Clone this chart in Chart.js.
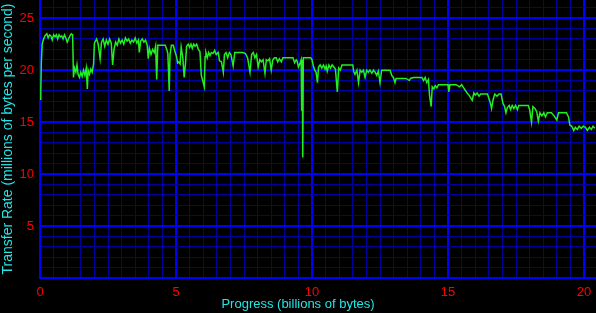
<!DOCTYPE html>
<html>
<head>
<meta charset="utf-8">
<script src="https://cdn.jsdelivr.net/npm/chart.js@4/dist/chart.umd.min.js"></script>
<style>
  html, body { margin: 0; padding: 0; background: #000; }
  #wrap { width: 596px; height: 313px; position: relative; }
</style>
</head>
<body>
<div id="wrap"><canvas id="rateChart"></canvas></div>
<script>
// progress in billions of bytes, rate in millions of bytes per second
const progress = [
  0.00, 0.03, 0.05, 0.08, 0.12, 0.18, 0.25, 0.30, 0.35, 0.40, 0.45, 0.50, 0.55, 0.60, 0.65, 0.70,
  0.75, 0.80, 0.85, 0.90, 0.95, 1.00, 1.05, 1.10, 1.15, 1.20, 1.23, 1.27, 1.32, 1.36, 1.40, 1.45,
  1.50, 1.55, 1.60, 1.65, 1.70, 1.74, 1.77, 1.82, 1.87, 1.92, 1.97, 2.00,
  2.02, 2.08, 2.14, 2.21, 2.26, 2.32, 2.38, 2.44, 2.50, 2.56, 2.62, 2.67, 2.72, 2.78, 2.84, 2.90,
  2.96, 3.02, 3.08, 3.14, 3.20, 3.26, 3.32, 3.38, 3.44, 3.50, 3.56, 3.62, 3.65, 3.70, 3.76, 3.82,
  3.88, 3.94, 3.98, 4.02, 4.08, 4.14, 4.20, 4.25, 4.29, 4.33, 4.40, 4.50, 4.60, 4.66, 4.70, 4.75,
  4.78, 4.83, 4.90, 4.96,
  5.02, 5.06, 5.10, 5.15, 5.19, 5.25, 5.30, 5.35, 5.39, 5.45, 5.50, 5.55, 5.60, 5.65, 5.70, 5.76,
  5.82, 5.88, 5.93, 6.04, 6.07, 6.10, 6.15, 6.20, 6.25, 6.30, 6.36, 6.42, 6.48, 6.55, 6.60, 6.67,
  6.74, 6.78, 6.84, 6.90, 6.96, 7.02, 7.10, 7.16, 7.25, 7.35, 7.45, 7.55, 7.63, 7.72, 7.78, 7.84,
  7.90, 7.96, 8.02, 8.08, 8.14, 8.20, 8.27, 8.32, 8.38, 8.44, 8.50, 8.56, 8.62, 8.68, 8.74, 8.80,
  8.87, 8.93, 9.00, 9.10, 9.20, 9.30, 9.36, 9.42, 9.45, 9.50, 9.55, 9.60, 9.62, 9.64, 9.66, 9.68,
  9.75, 9.85, 9.95, 10.00, 10.05, 10.10, 10.15, 10.20, 10.24, 10.30, 10.36, 10.42, 10.48, 10.52,
  10.56, 10.62, 10.68, 10.74, 10.80, 10.86, 10.93, 10.98, 11.04, 11.10, 11.20, 11.30, 11.43,
  11.50, 11.53, 11.58, 11.65, 11.71, 11.77, 11.83, 11.89, 11.95, 12.01, 12.07, 12.13, 12.20, 12.26,
  12.32, 12.38, 12.44, 12.50, 12.56, 12.65, 12.75, 12.87, 12.93, 12.99, 13.05, 13.09, 13.15, 13.30,
  13.45, 13.58, 13.62, 13.73, 13.90, 14.04, 14.10, 14.16, 14.22, 14.28, 14.32, 14.38, 14.42, 14.48,
  14.53, 14.59, 14.65, 14.80, 15.00, 15.03,
  15.07, 15.20, 15.30, 15.42, 15.50, 15.60, 15.70, 15.77, 15.89, 15.95, 16.00, 16.07, 16.14, 16.20,
  16.30, 16.45, 16.50, 16.55, 16.60, 16.66, 16.72, 16.80, 16.88, 16.95, 17.02, 17.08, 17.13, 17.18,
  17.25, 17.30, 17.36, 17.42, 17.48, 17.55, 17.60, 17.70, 17.80, 17.95, 18.00, 18.07, 18.12, 18.20,
  18.26, 18.32, 18.38, 18.45, 18.52, 18.58, 18.65, 18.72, 18.80, 18.90, 19.00, 19.06, 19.20, 19.35,
  19.43, 19.48, 19.55, 19.62, 19.68, 19.75, 19.82, 19.90, 19.97, 20.05, 20.12, 20.20, 20.27, 20.33,
  20.40
];
const rate = [
  17.2, 18.1, 20.8, 22.5, 22.9, 23.3, 23.5, 23.1, 23.4, 23.3, 22.9, 23.4, 23.2, 23.4, 23.0, 23.4,
  23.2, 23.3, 23.0, 23.4, 23.1, 22.7, 23.0, 23.3, 23.5, 23.4, 19.3, 20.2, 19.8, 20.5, 19.6, 19.3,
  19.8, 19.4, 20.0, 19.5, 20.2, 18.2, 20.0, 19.6, 20.1, 19.8, 20.6, 22.6,
  22.6, 23.0, 22.5, 21.1, 22.7, 23.0, 22.3, 22.9, 22.5, 23.0, 22.6, 20.5, 22.0, 22.7, 22.4, 23.0,
  22.6, 22.9, 22.5, 23.1, 22.8, 23.0, 22.6, 22.9, 22.7, 23.1, 22.6, 22.9, 21.7, 22.8, 23.0, 22.7,
  22.9, 22.4, 21.1, 22.1, 21.5, 22.0, 21.7, 22.3, 19.1, 22.4, 22.4, 22.4, 22.4, 22.0, 21.6, 18.0,
  21.5, 22.4, 22.4, 21.8,
  21.3, 20.7, 20.8, 20.6, 22.2, 21.2, 19.3, 20.7, 22.3, 22.5, 22.2, 22.5, 22.1, 22.5, 22.3, 22.5,
  22.0, 21.8, 19.5, 18.4, 21.3, 21.7, 21.2, 21.7, 21.4, 21.7, 21.6, 21.9, 21.5, 21.7, 20.9, 20.8,
  19.8, 21.5, 21.7, 21.2, 21.7, 21.5, 20.4, 21.7, 21.7, 21.7, 21.7, 21.6, 21.2, 19.8, 21.5, 21.7,
  21.2, 21.5, 20.3, 21.0, 20.8, 21.0, 19.7, 21.0, 20.9, 21.1, 20.0, 21.0, 21.2, 21.2, 20.8, 21.1,
  20.8, 21.2, 21.2, 21.2, 21.2, 21.2, 20.7, 21.0, 20.9, 20.3, 20.6, 21.0, 16.1, 21.0, 11.6, 21.2,
  21.2, 21.2, 21.2, 21.0, 20.4, 20.0, 19.8, 18.8, 20.3, 20.5, 20.2, 20.5, 20.1, 20.4,
  19.9, 20.5, 20.2, 20.5, 20.3, 20.1, 17.9, 20.2, 20.0, 20.5, 20.5, 20.5, 20.5,
  20.5, 19.9, 19.6, 20.0, 18.8, 20.0, 19.8, 20.0, 19.3, 20.0, 19.8, 20.0, 19.7, 20.0,
  19.8, 19.5, 19.9, 18.8, 20.0, 20.0, 20.0, 20.0, 19.5, 19.3, 18.8, 19.2, 19.2, 19.2,
  19.2, 19.0, 19.2, 19.3, 19.3, 19.3, 19.0, 19.3, 18.8, 19.1, 17.6, 16.5, 18.4, 18.2,
  18.5, 18.3, 18.6, 18.6, 18.6, 17.9,
  18.6, 18.6, 18.6, 18.4, 18.6, 18.2, 17.8, 17.6, 17.1, 17.8, 17.6, 17.8, 17.5, 17.7,
  17.7, 17.7, 17.3, 16.9, 16.3, 17.2, 17.7, 17.5, 17.7, 17.7, 16.8, 16.5, 15.9, 16.4,
  16.6, 16.2, 16.6, 16.3, 16.6, 16.2, 16.6, 16.6, 16.6, 16.6, 16.2, 15.0, 16.5, 16.3,
  16.0, 15.1, 15.9, 15.6, 15.9, 15.5, 15.9, 15.9, 15.9, 15.6, 15.2, 15.9, 15.9, 15.9,
  15.5, 14.7, 14.6, 14.2, 14.5, 14.3, 14.6, 14.4, 14.6, 14.5, 14.2, 14.5, 14.3, 14.6,
  14.4
];
const xTickLabels = [0, 5, 10, 15, 20];
const yTickLabels = [5, 10, 15, 20, 25];
const xTitle = "Progress (billions of bytes)";
const yTitle = "Transfer Rate (millions of bytes per second)";

const points = progress.map((p, i) => ({ x: p, y: rate[i] }));

const isMajor = (v) => Math.abs(v / 5 - Math.round(v / 5)) < 1e-6;
const gridColor = (c) => (c.tick && isMajor(c.tick.value) ? "#0000ff" : "#0000a0");
const gridWidth = (c) => (c.tick && isMajor(c.tick.value) ? 2 : 1);

const fontFamily = "Liberation Sans, Arial, sans-serif";

// black background plus the two axis titles, placed like the original
const framePlugin = {
  id: "frame",
  beforeDraw(chart) {
    const g = chart.ctx;
    g.save();
    g.fillStyle = "#000";
    g.fillRect(0, 0, chart.width, chart.height);
    g.restore();
  },
  afterDraw(chart) {
    const g = chart.ctx;
    const area = chart.chartArea;
    g.save();
    g.fillStyle = "#22e6e6";
    g.textAlign = "center";
    g.textBaseline = "middle";
    g.font = "13px " + fontFamily;
    g.fillText(xTitle, chart.width / 2, 304);
    g.translate(8, (area.top + area.bottom) / 2);
    g.rotate(-Math.PI / 2);
    g.font = "14px " + fontFamily;
    g.fillText(yTitle, 0, 0);
    g.restore();
  },
};

const tickFont = { family: fontFamily, size: 13 };

new Chart(document.getElementById("rateChart").getContext("2d"), {
  type: "scatter",
  data: {
    datasets: [
      {
        data: points,
        showLine: true,
        borderColor: "#22ee22",
        borderWidth: 1.5,
        pointRadius: 0,
        tension: 0,
      },
    ],
  },
  options: {
    responsive: true,
    maintainAspectRatio: false,
    animation: false,
    layout: { padding: 0 },
    plugins: { legend: { display: false }, tooltip: { enabled: false } },
    scales: {
      x: {
        type: "linear",
        min: 0,
        max: 20.44,
        afterFit: (s) => {
          s.height = 35;
          s.paddingLeft = 0;
          s.paddingRight = 0;
        },
        border: { color: "#0000ff", width: 2 },
        grid: { color: gridColor, lineWidth: gridWidth, drawTicks: false },
        ticks: {
          stepSize: 0.5,
          includeBounds: false,
          autoSkip: false,
          maxRotation: 0,
          color: "#ff0000",
          font: tickFont,
          padding: 7,
          callback: (v) => (xTickLabels.includes(v) ? String(v) : ""),
        },
      },
      y: {
        type: "linear",
        min: 0,
        max: 26.75,
        afterFit: (s) => {
          s.width = 40;
          s.paddingTop = 0;
          s.paddingBottom = 0;
        },
        border: { color: "#0000ff", width: 2 },
        grid: { color: gridColor, lineWidth: gridWidth, drawTicks: false },
        ticks: {
          stepSize: 1,
          includeBounds: false,
          autoSkip: false,
          color: "#ff0000",
          font: tickFont,
          padding: 6,
          callback: (v) => (yTickLabels.includes(v) ? String(v) : ""),
        },
      },
    },
  },
  plugins: [framePlugin],
});
</script>
</body>
</html>
